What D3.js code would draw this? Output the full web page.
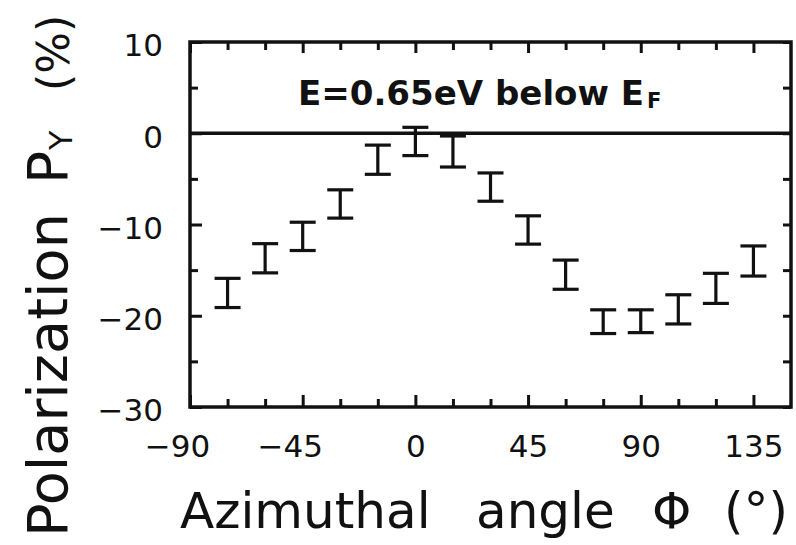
<!DOCTYPE html>
<html>
<head>
<meta charset="utf-8">
<script src="https://cdn.jsdelivr.net/npm/d3@7"></script>
<style>
  html, body { margin: 0; padding: 0; background: #fff; }
  svg { display: block; }
  text { font-family: "DejaVu Sans", sans-serif; fill: #111; }
</style>
</head>
<body>
<svg id="chart" width="796" height="545"></svg>
<script>
// ---- data ----
const angles = [-75, -60, -45, -30, -15, 0, 15, 30, 45, 60, 75, 90, 105, 120, 135];
const polarization = [-17.5, -13.7, -11.3, -7.75, -2.9, -0.9, -2.0, -5.9, -10.6, -15.5, -20.65, -20.6, -19.3, -17.0, -14.0];
const errors = [1.6, 1.6, 1.55, 1.55, 1.6, 1.55, 1.7, 1.55, 1.55, 1.6, 1.3, 1.25, 1.6, 1.65, 1.65];
const xTickLabels = [-90, -45, 0, 45, 90, 135];
const xMinorTicks = [-75, -60, -30, -15, 15, 30, 60, 75, 105, 120];
const yTickLabels = [-30, -20, -10, 0, 10];
const yMinorTicks = [-25, -15, -5, 5];
const xDomain = [-90, 150];
const yDomain = [-30, 10];

// ---- layout ----
const L = 190, R = 791, T = 42, B = 407;
const svg = d3.select("#chart");
const x = d3.scaleLinear().domain(xDomain).range([L, R]);
const y = d3.scaleLinear().domain(yDomain).range([B, T]);
const fmt = d => (d < 0 ? "\u2212" + Math.abs(d) : String(d));
const ink = "#111";

function styleAxis(g) {
  g.select(".domain").remove();
  g.selectAll(".tick line").attr("stroke", ink).attr("stroke-width", 3);
  g.selectAll(".tick text").style("font-size", "31px").attr("fill", ink);
}

// bottom axis (major, labelled)
svg.append("g").attr("transform", `translate(0,${B})`)
  .call(d3.axisBottom(x).tickValues(xTickLabels).tickSizeInner(-12).tickSizeOuter(0).tickPadding(28).tickFormat(fmt))
  .call(styleAxis)
  .call(g => g.selectAll(".tick text").attr("dx", d => d < 0 ? -13 : 0));
// bottom minor
svg.append("g").attr("transform", `translate(0,${B})`)
  .call(d3.axisBottom(x).tickValues(xMinorTicks).tickSizeInner(-8).tickSizeOuter(0).tickFormat(""))
  .call(styleAxis);
// top axis
svg.append("g").attr("transform", `translate(0,${T})`)
  .call(d3.axisTop(x).tickValues(xTickLabels).tickSizeInner(-11).tickSizeOuter(0).tickFormat(""))
  .call(styleAxis);
svg.append("g").attr("transform", `translate(0,${T})`)
  .call(d3.axisTop(x).tickValues(xMinorTicks).tickSizeInner(-8).tickSizeOuter(0).tickFormat(""))
  .call(styleAxis);
// left axis (major, labelled)
svg.append("g").attr("transform", `translate(${L},0)`)
  .call(d3.axisLeft(y).tickValues(yTickLabels).tickSizeInner(-12).tickSizeOuter(0).tickPadding(27).tickFormat(fmt))
  .call(styleAxis)
  .call(g => g.selectAll(".tick text").attr("dy", "0.45em"));
svg.append("g").attr("transform", `translate(${L},0)`)
  .call(d3.axisLeft(y).tickValues(yMinorTicks).tickSizeInner(-8).tickSizeOuter(0).tickFormat(""))
  .call(styleAxis);
// right axis
svg.append("g").attr("transform", `translate(${R},0)`)
  .call(d3.axisRight(y).tickValues(yTickLabels.concat(yMinorTicks)).tickSizeInner(-8).tickSizeOuter(0).tickFormat(""))
  .call(styleAxis);

// frame
svg.append("rect")
  .attr("x", L).attr("y", T).attr("width", R - L).attr("height", B - T)
  .attr("fill", "none").attr("stroke", ink).attr("stroke-width", 3.5);

// zero line
svg.append("line")
  .attr("x1", x(xDomain[0])).attr("x2", x(xDomain[1]))
  .attr("y1", y(0)).attr("y2", y(0))
  .attr("stroke", ink).attr("stroke-width", 3.5);

// error bars
const data = angles.map((a, i) => ({ a, v: polarization[i], e: errors[i] }));
const cap = 13;
const bars = svg.append("g").attr("stroke", ink).attr("stroke-width", 3.2).attr("fill", "none");
const eb = bars.selectAll("g").data(data).join("g");
eb.append("line")
  .attr("x1", d => x(d.a)).attr("x2", d => x(d.a))
  .attr("y1", d => y(d.v + d.e)).attr("y2", d => y(d.v - d.e));
eb.append("line")
  .attr("x1", d => x(d.a) - cap).attr("x2", d => x(d.a) + cap)
  .attr("y1", d => y(d.v + d.e)).attr("y2", d => y(d.v + d.e));
eb.append("line")
  .attr("x1", d => x(d.a) - cap).attr("x2", d => x(d.a) + cap)
  .attr("y1", d => y(d.v - d.e)).attr("y2", d => y(d.v - d.e));

// annotation
svg.append("text").attr("x", 298).attr("y", 105)
  .style("font-size", "34px").style("font-weight", "bold")
  .attr("textLength", 346).attr("lengthAdjust", "spacingAndGlyphs")
  .text("E=0.65eV below E");
svg.append("text").attr("x", 647).attr("y", 108)
  .style("font-size", "21px").style("font-weight", "bold")
  .text("F");

// x axis title
const xt = svg.append("text").attr("y", 528).style("font-size", "50px");
xt.append("tspan").attr("x", 180).text("Azimuthal");
xt.append("tspan").attr("x", 476).text("angle");
xt.append("tspan").attr("x", 652).text("\u03A6");
xt.append("tspan").attr("x", 724).text("(\u00B0)");

// y axis title
const yt = svg.append("text").attr("transform", "translate(67,0) rotate(-90)").style("font-size", "55px");
yt.append("tspan").attr("x", -537).text("Polarization").attr("textLength", 324).attr("lengthAdjust", "spacingAndGlyphs");
yt.append("tspan").attr("x", -184).text("P");
yt.append("tspan").attr("x", -150).attr("dy", 5).style("font-size", "32px").text("Y");
svg.append("text").attr("transform", "translate(69,0) rotate(-90)")
  .attr("x", -91).style("font-size", "44px").text("(%)");
</script>
</body>
</html>
